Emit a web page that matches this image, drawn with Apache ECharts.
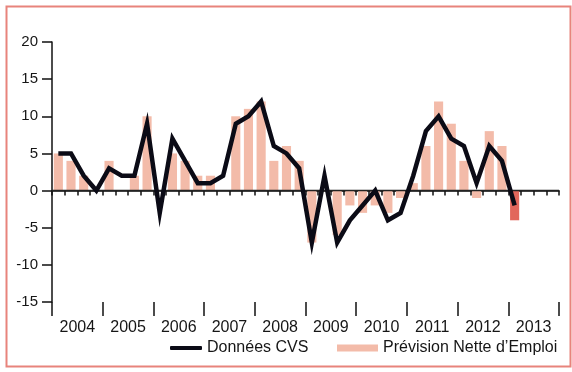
<!DOCTYPE html>
<html>
<head>
<meta charset="utf-8">
<script src="https://cdn.jsdelivr.net/npm/echarts@6/dist/echarts.min.js"></script>
<style>
html,body{margin:0;padding:0;background:#fff;}
#chart{width:572px;height:372px;}
</style>
</head>
<body>
<div id="chart"></div>
<script>
const years = ['2004','2005','2006','2007','2008','2009','2010','2011','2012','2013'];
const quarters = [];
years.forEach(y => { for (let q = 1; q <= 4; q++) quarters.push(y + 'T' + q); });

const lineName = 'Données CVS';
const barName = 'Prévision Nette d\u2019Emploi';

const cvsValues = [5,5,2,0, 3,2,2,9, -3,7,4,1, 1,2,9,10, 12,6,5,3, -7,2,-7,-4, -2,0,-4,-3, 2,8,10,7, 6,1,6,4, -2];
const forecastValues = [5,4,2,0, 4,0,2,10, 0,5,4,2, 2,0,10,11, 12,4,6,4, -7,0,-6,-2, -3,-2,-3,-1, 1,6,12,9, 4,-1,8,6, -4];

const yTicks = [-15,-10,-5,0,5,10,15,20];

const textColor = '#161616';
const font = '"Liberation Sans", Arial, Helvetica, sans-serif';

const barData = forecastValues.map((v, i) =>
  i === forecastValues.length - 1 ? { value: v, itemStyle: { color: '#e2675c' } } : v);

const chart = echarts.init(document.getElementById('chart'), null, { renderer: 'canvas' });
chart.setOption({
  animation: false,
  backgroundColor: '#fff',
  textStyle: { fontFamily: font },
  grid: { left: 52, right: 13, top: 42, bottom: 70, containLabel: false },
  graphic: [{
    type: 'rect', left: 4, top: 4, z: 100, silent: true,
    shape: { width: 564, height: 360 },
    style: { fill: 'none', stroke: '#e8847c', lineWidth: 2 }
  }],
  legend: [{
    data: [{ name: lineName, icon: 'roundRect' }],
    left: 170, top: 340, padding: 0, itemWidth: 32, itemHeight: 4,
    textStyle: { fontSize: 16, color: textColor, fontFamily: font },
    itemStyle: { color: '#0b0b16' }
  }, {
    data: [{ name: barName, icon: 'rect' }],
    left: 337, top: 340, padding: 0, itemWidth: 41, itemHeight: 7,
    textStyle: { fontSize: 16, color: textColor, fontFamily: font }
  }],
  xAxis: [{
    type: 'category', data: quarters, boundaryGap: true, position: 'bottom',
    axisLine: { show: true, lineStyle: { color: '#111', width: 1.5 } },
    axisTick: { show: true, length: 5, interval: 0, lineStyle: { color: '#111', width: 1.5 } },
    axisLabel: { show: false }, splitLine: { show: false }
  }, {
    type: 'category', data: years, boundaryGap: true, position: 'bottom',
    axisLine: { show: false },
    axisTick: { show: true, length: 14, interval: 0, lineStyle: { color: '#111', width: 1.5 } },
    axisLabel: { show: true, interval: 0, fontSize: 16, color: textColor, margin: 18, fontFamily: font },
    splitLine: { show: false }
  }],
  yAxis: {
    type: 'value', min: -15, max: 20, interval: 5,
    axisLine: { show: true, lineStyle: { color: '#111', width: 1.5 } },
    axisTick: { show: true, inside: false, length: 10, lineStyle: { color: '#111', width: 1.5 } },
    axisLabel: { fontSize: 15, color: textColor, margin: 14, fontFamily: font,
      formatter: v => yTicks.includes(v) ? String(v) : '' },
    splitLine: { show: false }
  },
  series: [{
    name: barName, type: 'bar', xAxisIndex: 0, data: barData,
    barWidth: '72%', itemStyle: { color: '#f3bba9' },
    markLine: {
      silent: true, symbol: 'none', label: { show: false },
      lineStyle: { color: '#222', width: 1.3, type: 'solid' },
      data: [{ yAxis: 0 }], z: 3
    }
  }, {
    name: lineName, type: 'line', xAxisIndex: 0, data: cvsValues,
    symbol: 'none', smooth: false, z: 5,
    lineStyle: { color: '#0b0b16', width: 4.5, join: 'miter' },
    itemStyle: { color: '#0b0b16' }
  }]
});
</script>
</body>
</html>
